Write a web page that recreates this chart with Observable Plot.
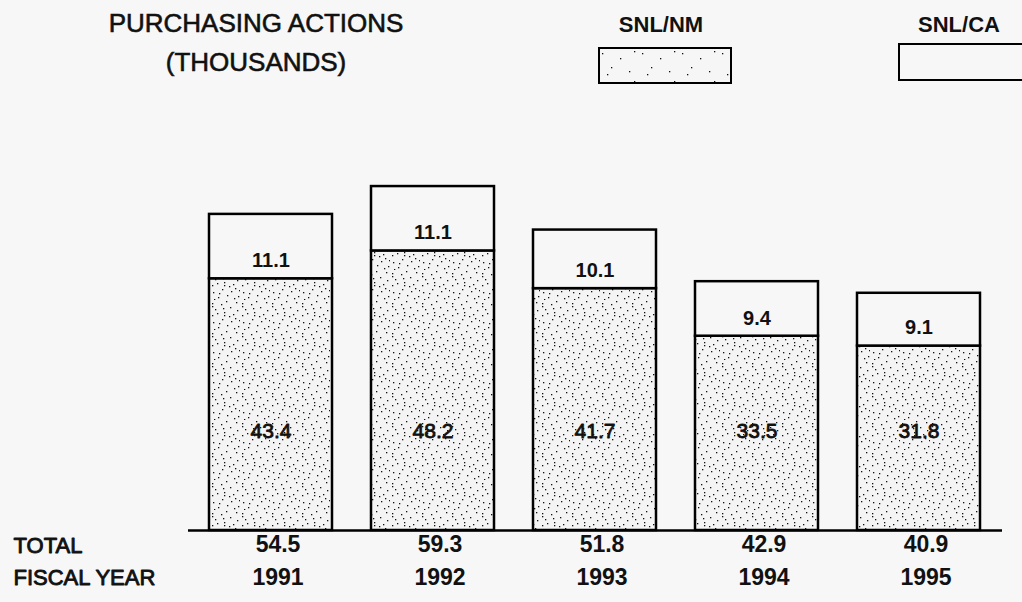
<!DOCTYPE html>
<html>
<head>
<meta charset="utf-8">
<script src="https://cdn.jsdelivr.net/npm/d3@7"></script>
<script src="https://cdn.jsdelivr.net/npm/@observablehq/plot@0.6"></script>
<style>
  html, body { margin: 0; padding: 0; background: #f7f7f7; overflow: hidden; }
  body { width: 1022px; height: 602px; font-family: "Liberation Sans", Arial, Helvetica, sans-serif; color: #111; }
  #header { position: relative; width: 1022px; height: 120px; }
  .title { position: absolute; left: 56px; top: 4px; width: 400px; text-align: center; font-size: 26px; line-height: 39px; -webkit-text-stroke: 0.6px #111; }
  .leg-label { position: absolute; width: 200px; text-align: center; font-size: 22px; line-height: 22px; font-weight: bold; }
  .leg-box { position: absolute; }
</style>
</head>
<body>
<svg width="0" height="0" style="position:absolute">
  <defs>
    <pattern id="stipple" patternUnits="userSpaceOnUse" width="30" height="30">
      <rect width="30" height="30" fill="#f4f4f4"></rect>
      <g fill="#111">
        <rect x="2" y="3" width="1.3" height="1.3"></rect>
        <rect x="2" y="6" width="1.3" height="1.3"></rect>
        <rect x="5" y="9" width="1.3" height="1.3"></rect>
        <rect x="2" y="15" width="1.3" height="1.3"></rect>
        <rect x="3" y="22" width="1.3" height="1.3"></rect>
        <rect x="8" y="27" width="1.3" height="1.3"></rect>
        <rect x="11" y="4" width="1.3" height="1.3"></rect>
        <rect x="14" y="12" width="1.3" height="1.3"></rect>
        <rect x="14" y="15" width="1.3" height="1.3"></rect>
        <rect x="12" y="19" width="1.3" height="1.3"></rect>
        <rect x="17" y="25" width="1.3" height="1.3"></rect>
        <rect x="20" y="7" width="1.3" height="1.3"></rect>
        <rect x="23" y="14" width="1.3" height="1.3"></rect>
        <rect x="21" y="21" width="1.3" height="1.3"></rect>
        <rect x="26" y="2" width="1.3" height="1.3"></rect>
        <rect x="27" y="10" width="1.3" height="1.3"></rect>
        <rect x="25" y="18" width="1.3" height="1.3"></rect>
        <rect x="28" y="26" width="1.3" height="1.3"></rect>
        <rect x="7" y="13" width="1.3" height="1.3"></rect>
        <rect x="16" y="1" width="1.3" height="1.3"></rect>
        <rect x="19" y="16" width="1.3" height="1.3"></rect>
        <rect x="9" y="23" width="1.3" height="1.3"></rect>
        <rect x="24" y="28" width="1.3" height="1.3"></rect>
        <rect x="13" y="8" width="1.3" height="1.3"></rect>
        <rect x="29" y="20" width="1.3" height="1.3"></rect>
        <rect x="4" y="29" width="1.3" height="1.3"></rect>
      </g>
    </pattern>
    <pattern id="stipple-light" patternUnits="userSpaceOnUse" width="40" height="30">
      <rect width="40" height="30" fill="#f6f6f6"></rect>
      <g fill="#111">
        <rect x="4" y="6" width="1.3" height="1.3"></rect>
        <rect x="13" y="20" width="1.3" height="1.3"></rect>
        <rect x="22" y="11" width="1.3" height="1.3"></rect>
        <rect x="31" y="24" width="1.3" height="1.3"></rect>
        <rect x="36" y="4" width="1.3" height="1.3"></rect>
        <rect x="9" y="27" width="1.3" height="1.3"></rect>
      </g>
    </pattern>
  </defs>
</svg>

<div id="header">
  <div class="title">PURCHASING ACTIONS<br>(THOUSANDS)</div>
  <div class="leg-label" style="left:561px; top:14px;">SNL/NM</div>
  <svg class="leg-box" style="left:598px; top:47px;" width="134" height="37">
    <rect x="1" y="1" width="132" height="35" fill="url(#stipple-light)" stroke="#000" stroke-width="2"></rect>
  </svg>
  <div class="leg-label" style="left:859px; top:14px;">SNL/CA</div>
  <svg class="leg-box" style="left:898px; top:43px;" width="140" height="38">
    <rect x="1" y="1" width="150" height="36" fill="#f7f7f7" stroke="#000" stroke-width="2"></rect>
  </svg>
</div>
<div id="chart"></div>

<script>
// ---- data ----
const years = ["1991", "1992", "1993", "1994", "1995"];
const snlNM = [43.4, 48.2, 41.7, 33.5, 31.8];
const snlCA = [11.1, 11.1, 10.1, 9.4, 9.1];
const totals = [54.5, 59.3, 51.8, 42.9, 40.9];
const seriesNames = ["SNL/NM", "SNL/CA"];
const rowLabels = ["TOTAL", "FISCAL YEAR"];

// ---- build tidy table ----
const table = [];
years.forEach((yr, i) => {
  table.push({year: yr, series: seriesNames[0], value: snlNM[i]});
  table.push({year: yr, series: seriesNames[1], value: snlCA[i]});
});
const fmt = d3.format(".1f");
const BG = "#f7f7f7";
const font = "'Liberation Sans', Arial, Helvetica, sans-serif";

const chart = Plot.plot({
  width: 1022,
  height: 482,
  marginLeft: 188,
  marginRight: 20,
  marginTop: 62,
  marginBottom: 72,
  x: {domain: years, paddingInner: 0.24, paddingOuter: 0.13, axis: null},
  y: {domain: [0, 60], axis: null},
  color: {domain: seriesNames, range: ["url(#stipple)", BG]},
  style: {background: "transparent", fontFamily: font, overflow: "visible", color: "#111"},
  marks: [
    Plot.barY(table, {x: "year", y: "value", fill: "series", stroke: "#000", strokeWidth: 2.5}),
    Plot.ruleY([0], {stroke: "#000", strokeWidth: 2.5}),
    // SNL/CA values, just above the divider
    Plot.text(years, {x: d => d, y: (d, i) => snlNM[i], text: (d, i) => fmt(snlCA[i]),
      dy: -18, fontSize: 20, fontWeight: "bold", fill: "#111"}),
    // SNL/NM values, low in the bar
    Plot.text(years, {x: d => d, text: (d, i) => fmt(snlNM[i]), frameAnchor: "bottom",
      dy: -93, fontSize: 21, fill: "#111", stroke: "#111", strokeWidth: 0.8}),
    // totals row
    Plot.text(years, {x: d => d, text: (d, i) => fmt(totals[i]), frameAnchor: "bottom",
      dy: 21, dx: 7, fontSize: 23, fontWeight: "bold", fill: "#111"}),
    // fiscal year row
    Plot.text(years, {x: d => d, text: d => d, frameAnchor: "bottom",
      dy: 54, dx: 7, fontSize: 23, fontWeight: "bold", fill: "#111"}),
    // row labels
    Plot.text([rowLabels[0]], {text: d => d, frameAnchor: "bottom-left", textAnchor: "start",
      dx: -175, dy: 22, fontSize: 22, fill: "#111", stroke: "#111", strokeWidth: 0.9}),
    Plot.text([rowLabels[1]], {text: d => d, frameAnchor: "bottom-left", textAnchor: "start",
      dx: -175, dy: 54, fontSize: 22, fill: "#111", stroke: "#111", strokeWidth: 0.9})
  ]
});
document.getElementById("chart").appendChild(chart);
</script>
</body>
</html>
